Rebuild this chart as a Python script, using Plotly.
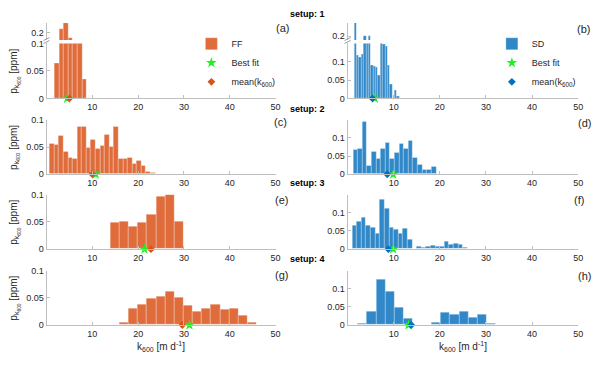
import plotly.graph_objects as go

# ---- data (bin start, bin width, bar heights) ----
ff1_start, ff1_width = 1.75, 1.0
ff1 = [0.064, 0.207, 0.219, 0.188, 0.13, 0.13, 0.034]
sd1_start, sd1_width = 1.46, 0.515
sd1 = [0.24, 0.117, 0.113, 0.12, 0.201, 0.16, 0.201, 0.09, 0.088, 0.085, 0.064,
       0.16, 0.148, 0.143, 0.09, 0.037, 0.0, 0.023, 0.005]

ff2_start, ff2_width = 0.7, 1.0
ff2 = [0.056, 0.054, 0.071, 0.041, 0.031, 0.028, 0.088, 0.088, 0.049, 0.064, 0.047, 0.052,
       0.073, 0.050, 0.087, 0.028, 0.028, 0.031, 0.020, 0.024, 0.016, 0.004, 0.0025]
sd2_start, sd2_width = 1.2, 1.0
sd2 = [0.067, 0.069, 0.145, 0.024, 0.062, 0.042, 0.071, 0.087, 0.042, 0.060, 0.084, 0.071,
       0.091, 0.046, 0.026, 0.011, 0.011, 0.020]

ff3_start, ff3_width = 13.9, 2.0
ff3 = [0.049, 0.051, 0.041, 0.048, 0.064, 0.097, 0.1, 0.050]
sd3_start, sd3_width = 1.0, 1.0
sd3 = [0.065, 0.075, 0.086, 0.065, 0.060, 0.042, 0.135, 0.112, 0.059, 0.053, 0.042, 0.057,
       0.027, 0.0, 0.0055, 0.004, 0.007, 0.010, 0.007, 0.007, 0.021, 0.012, 0.015, 0.012,
       0.003, 0.002]

ff4_start, ff4_width = 15.9, 2.0
ff4 = [0.004, 0.030, 0.037, 0.049, 0.053, 0.062, 0.051, 0.035, 0.024, 0.030, 0.037, 0.028,
       0.031, 0.018, 0.005]
sd4_start, sd4_width = 2.2, 2.0
sd4 = [0.005, 0.0375, 0.124, 0.091, 0.049, 0.017, 0.0, 0.0, 0.008, 0.035, 0.029, 0.0375,
       0.020, 0.029, 0.005]

# panels a..h: best fit and mean(k600)
best_fit = [4.5, 5.9, 10.75, 9.9, 21.4, 9.9, 31.2, 13.2]
mean_k = [5.0, 5.4, 10.0, 8.6, 22.8, 8.85, 29.65, 13.8]

panel_labels = ['(a)', '(b)', '(c)', '(d)', '(e)', '(f)', '(g)', '(h)']
setup_titles = ['setup: 1', 'setup: 2', 'setup: 3', 'setup: 4']
x_ticks = [10, 20, 30, 40, 50]
y_ticks = [0, 0.05, 0.1]

ff_color = '#DF6C3A'
sd_color = '#3088C8'
ff_mean_color = '#D95319'
sd_mean_color = '#0072BD'
star_color = '#22EE22'
axis_color = '#BFBFBF'
text_color = '#262626'
FONT = 'Liberation Sans, Arial, sans-serif'

W, H = 600, 366


def py(p):
    return 1 - p / H


left_dom = [46.9 / W, 277.9 / W]
right_dom = [350.5 / W, 583.0 / W]
row_dom = [
    [py(96), py(39.5)],
    [py(174), py(118)],
    [py(251), py(195)],
    [py(329), py(273)],
]
upper_dom = [py(36), py(18.5)]

fig = go.Figure()


def centers(start, width, vals):
    return [start + width * (i + 0.5) for i in range(len(vals))]


def add_hist(start, width, vals, color, xa, ya, name=None, legend=None, show=False):
    fig.add_trace(go.Bar(
        x=centers(start, width, vals), y=vals, width=width,
        marker=dict(color=color, line=dict(color='rgba(255,255,255,0.45)', width=0.6)),
        name=name, showlegend=show, legend=legend,
        xaxis=xa, yaxis=ya, hoverinfo='skip'))


def add_marks(i, mcolor, xa, ya, legend=None, show=False):
    fig.add_trace(go.Scatter(
        x=[best_fit[i]], y=[0], mode='markers', name='Best fit',
        marker=dict(symbol='star', size=8, color=star_color, line=dict(width=0)),
        showlegend=show, legend=legend, xaxis=xa, yaxis=ya, cliponaxis=False))
    fig.add_trace(go.Scatter(
        x=[mean_k[i]], y=[0], mode='markers', name='mean(k<sub>600</sub>)',
        marker=dict(symbol='diamond', size=6, color=mcolor, line=dict(width=0)),
        showlegend=show, legend=legend, xaxis=xa, yaxis=ya, cliponaxis=False))


ff_sets = [(ff1_start, ff1_width, ff1), (ff2_start, ff2_width, ff2),
           (ff3_start, ff3_width, ff3), (ff4_start, ff4_width, ff4)]
sd_sets = [(sd1_start, sd1_width, sd1), (sd2_start, sd2_width, sd2),
           (sd3_start, sd3_width, sd3), (sd4_start, sd4_width, sd4)]

# axis numbering: row r (0..3) left -> 2r+1, right -> 2r+2 ; row-1 upper parts -> 9, 10
for r in range(4):
    li, ri = 2 * r + 1, 2 * r + 2
    lx, ly = f'x{li}', f'y{li}'
    rx, ry = f'x{ri}', f'y{ri}'
    s, w, v = ff_sets[r]
    add_hist(s, w, v, ff_color, lx, ly, 'FF', 'legend', r == 0)
    s, w, v = sd_sets[r]
    add_hist(s, w, v, sd_color, rx, ry, 'SD', 'legend2', r == 0)
    if r == 0:
        add_hist(*ff_sets[0], ff_color, 'x9', 'y9')
        add_hist(*sd_sets[0], sd_color, 'x10', 'y10')
    add_marks(2 * r, ff_mean_color, lx, ly, 'legend', r == 0)
    add_marks(2 * r + 1, sd_mean_color, rx, ry, 'legend2', r == 0)

axis_common = dict(
    showline=True, linecolor=axis_color, linewidth=1, showgrid=False, zeroline=False,
    ticks='inside', ticklen=3, tickcolor=axis_color,
    tickfont=dict(family=FONT, size=9, color=text_color),
)

layout = dict()
for r in range(4):
    for side in range(2):
        i = 2 * r + 1 + side
        dom = left_dom if side == 0 else right_dom
        layout[f'xaxis{i}'] = dict(axis_common, domain=dom, range=[0, 50], anchor=f'y{i}',
                                   tickvals=x_ticks)
        layout[f'yaxis{i}'] = dict(axis_common, domain=row_dom[r], anchor=f'x{i}',
                                   range=[0, 0.1] if side == 0 else [0, 0.15],
                                   tickvals=y_ticks, ticktext=['0', '0.05', '0.1'])

# upper (broken) parts of row 1
layout['xaxis9'] = dict(domain=left_dom, range=[0, 50], anchor='y9', visible=False)
layout['yaxis9'] = dict(axis_common, domain=upper_dom, anchor='x9', range=[0.184, 0.22],
                        tickvals=[0.2], ticktext=['0.2'])
layout['xaxis10'] = dict(domain=right_dom, range=[0, 50], anchor='y10', visible=False)
layout['yaxis10'] = dict(axis_common, domain=upper_dom, anchor='x10', range=[0.19, 0.235],
                         tickvals=[0.2], ticktext=['0.2'])

fig.update_layout(**layout)

annotations = []
label_pos = [(285, 24), (588, 25), (283, 120), (589, 121), (284, 200), (584, 200), (284, 278), (589, 279)]
for lab, (xp, yp) in zip(panel_labels, label_pos):
    annotations.append(dict(x=xp / W, y=py(yp), xref='paper', yref='paper', text=lab,
                            showarrow=False, xanchor='center', yanchor='middle',
                            font=dict(family=FONT, size=11, color=text_color)))
for t, yp in zip(setup_titles, [9.5, 107, 183, 261]):
    annotations.append(dict(x=310 / W, y=py(yp), xref='paper', yref='paper', text=f'<b>{t}</b>',
                            showarrow=False, xanchor='center', yanchor='middle',
                            font=dict(family=FONT, size=9, color='#000000')))
for r in range(4):
    yc = (row_dom[r][0] + row_dom[r][1]) / 2
    annotations.append(dict(x=15 / W, y=yc, xref='paper', yref='paper',
                            text='p<sub>k<sub>600</sub></sub> [ppm]', textangle=-90,
                            showarrow=False, xanchor='center', yanchor='middle',
                            font=dict(family=FONT, size=10, color=text_color)))
for xc in [162 / W, 467 / W]:
    annotations.append(dict(x=xc, y=py(351), xref='paper', yref='paper',
                            text='k<sub>600</sub> [m d<sup>-1</sup>]',
                            showarrow=False, xanchor='center', yanchor='middle',
                            font=dict(family=FONT, size=10, color=text_color)))

# break marks on the row-1 y axes
shapes = []
for x0 in [46.9, 350.5]:
    for dy in [0, 3]:
        shapes.append(dict(type='line', xref='paper', yref='paper',
                           x0=(x0 - 3) / W, x1=(x0 + 3) / W,
                           y0=py(39.5 - dy), y1=py(36.5 - dy),
                           line=dict(color='#9A9A9A', width=1)))

legend_style = dict(font=dict(family=FONT, size=9, color=text_color),
                    bgcolor='rgba(0,0,0,0)', itemwidth=30, xanchor='left', yanchor='top',
                    tracegroupgap=0)

fig.update_layout(
    width=W, height=H, autosize=False,
    margin=dict(l=0, r=0, t=0, b=0),
    paper_bgcolor='white', plot_bgcolor='white',
    font=dict(family=FONT, size=9, color=text_color),
    bargap=0,
    annotations=annotations,
    shapes=shapes,
    legend=dict(legend_style, x=193 / W, y=py(25)),
    legend2=dict(legend_style, x=496 / W, y=py(25)),
)

fig.write_html('out.html', config={'displayModeBar': False},
               post_script="document.body.style.margin='0';")
